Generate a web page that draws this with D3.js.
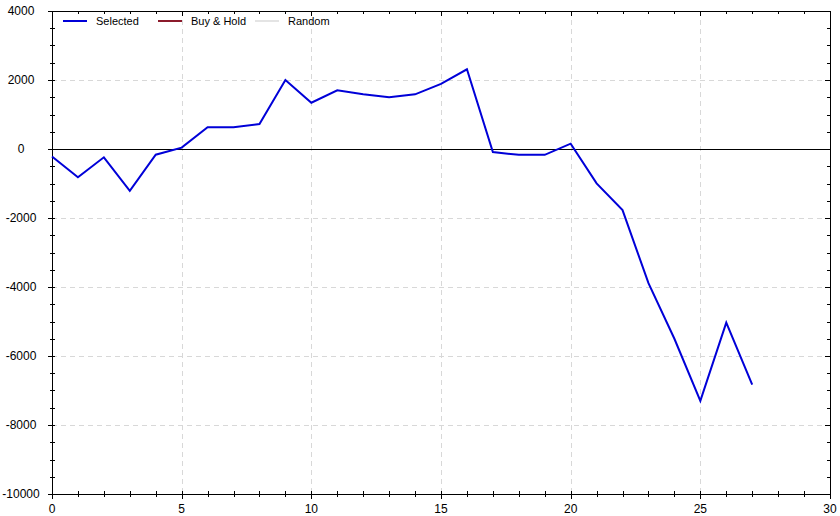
<!DOCTYPE html>
<html><head><meta charset="utf-8">
<script src="https://cdn.jsdelivr.net/npm/d3@7"></script>
<style>body{margin:0;background:#fff}svg{display:block;font-family:"Liberation Sans",Arial,sans-serif}</style>
</head><body><svg id="c" width="840" height="516"></svg>
<script>
const periods = d3.range(0, 28);
const selected = [-220, -820, -240, -1210, -165, 40, 630, 630, 725, 2000, 1340, 1700, 1590, 1500, 1585, 1885, 2310, -90, -170, -170, 155, -995, -1770, -3890, -5500, -7300, -5035, -6830];
const legendNames = ["Selected", "Buy & Hold", "Random"];
const legendColors = ["#0000d8", "#8b1a2b", "#e4e4e4"];
const xTicks = [0, 5, 10, 15, 20, 25, 30];
const yTicks = [-10000, -8000, -6000, -4000, -2000, 0, 2000, 4000];

const svg = d3.select("#c");
const L = 52, R = 830, T = 11, B = 494;
const x = d3.scaleLinear().domain([0, 30]).range([L, R]);
const y = d3.scaleLinear().domain([-10000, 4000]).range([B, T]);
const px = v => Math.round(v) + 0.5;

// grid
const g = svg.append("g").attr("shape-rendering", "crispEdges");
g.selectAll("line.vx").data(xTicks.filter(d => d > 0 && d < 30)).join("line")
  .attr("x1", d => px(x(d))).attr("x2", d => px(x(d))).attr("y1", T).attr("y2", B)
  .attr("stroke", "#d8d8d8").attr("stroke-dasharray", "5,4");
g.selectAll("line.hy").data(yTicks.filter(d => d > -10000 && d < 4000 && d !== 0)).join("line")
  .attr("x1", L).attr("x2", R).attr("y1", d => px(y(d))).attr("y2", d => px(y(d)))
  .attr("stroke", "#d8d8d8").attr("stroke-dasharray", "5,4");

// zero line
svg.append("line").attr("x1", L).attr("x2", R).attr("y1", px(y(0))).attr("y2", px(y(0)))
  .attr("stroke", "#000").attr("stroke-width", 1).attr("shape-rendering", "crispEdges");

// minor ticks
const xMinor = d3.range(0, 31);
const yMinor = d3.range(-10000, 4001, 500);
const ax = svg.append("g").attr("stroke", "#000").attr("stroke-width", 1).attr("shape-rendering", "crispEdges");
xMinor.forEach(v => {
  const major = v % 5 === 0;
  const xx = px(x(v));
  ax.append("line").attr("x1", xx).attr("x2", xx).attr("y1", B - 3).attr("y2", B + (major ? 5 : 3));
  ax.append("line").attr("x1", xx).attr("x2", xx).attr("y1", T).attr("y2", T + (major ? 5 : 3));
});
yMinor.forEach(v => {
  const major = v % 2000 === 0;
  const yy = px(y(v));
  ax.append("line").attr("x1", L - (major ? 4 : 2)).attr("x2", L + 3).attr("y1", yy).attr("y2", yy);
  ax.append("line").attr("x1", R - (major ? 5 : 3)).attr("x2", R).attr("y1", yy).attr("y2", yy);
});
// frame lines
ax.append("line").attr("x1", L).attr("x2", R + 1).attr("y1", px(B)).attr("y2", px(B));
ax.append("line").attr("x1", L).attr("x2", R + 1).attr("y1", px(T)).attr("y2", px(T));
ax.append("line").attr("x1", px(L)).attr("x2", px(L)).attr("y1", T).attr("y2", B);
ax.append("line").attr("x1", px(R)).attr("x2", px(R)).attr("y1", T).attr("y2", B);

// tick labels
svg.selectAll("text.xl").data(xTicks).join("text")
  .attr("x", d => x(d)).attr("y", B + 19).attr("text-anchor", "middle")
  .attr("font-size", 12).attr("fill", "#000").text(d => d);
svg.selectAll("text.yl").data(yTicks).join("text")
  .attr("x", 21).attr("y", d => y(d) + 4).attr("text-anchor", "middle")
  .attr("font-size", 12).attr("fill", "#000").text(d => d);

// series
const line = d3.line().x((d, i) => x(periods[i])).y(d => y(d));
svg.append("path").datum(selected).attr("d", line).attr("fill", "none")
  .attr("stroke", legendColors[0]).attr("stroke-width", 2).attr("stroke-linejoin", "miter");

// legend
const lx = [63, 158, 255];
legendNames.forEach((n, i) => {
  svg.append("line").attr("x1", lx[i]).attr("x2", lx[i] + 24).attr("y1", 21).attr("y2", 21)
    .attr("stroke", legendColors[i]).attr("stroke-width", 2);
  svg.append("text").attr("x", lx[i] + 33).attr("y", 25).attr("font-size", 11).attr("fill", "#000").text(n);
});
</script></body></html>
